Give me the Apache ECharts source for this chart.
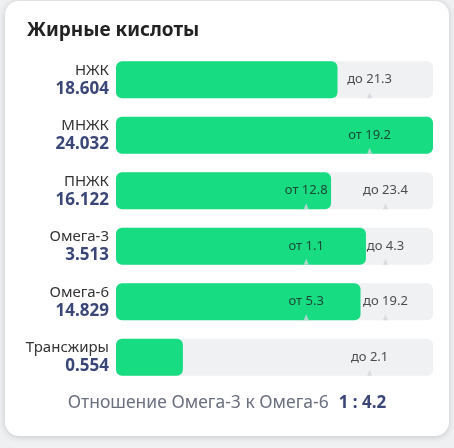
<!DOCTYPE html>
<html>
<head>
<meta charset="utf-8">
<script src="https://cdn.jsdelivr.net/npm/echarts@6/dist/echarts.min.js"></script>
<style>
  html, body { margin: 0; padding: 0; background: #eff0f2; }
  #chart { width: 454px; height: 448px; }
</style>
</head>
<body>
<div id="chart"></div>
<script>
// values
var categories = ['НЖК', 'МНЖК', 'ПНЖК', 'Омега-3', 'Омега-6', 'Трансжиры'];
var values = [18.604, 24.032, 16.122, 3.513, 14.829, 0.554];
var rangeFrom = [null, 19.2, 12.8, 1.1, 5.3, null];
var rangeTo = [21.3, null, 23.4, 4.3, 19.2, 2.1];
var ratioText = '1 : 4.2';

// scale of the track: lower bound at 60%, upper at 85%; a single bound sits at 80%
function toPct(v, i) {
    var lo = rangeFrom[i], hi = rangeTo[i], p;
    if (lo != null && hi != null) {
        p = 60 + (v - lo) / (hi - lo) * 25;
    } else {
        p = v / (lo != null ? lo : hi) * 80;
    }
    return Math.max(0, Math.min(100, p));
}

var barData = values.map(function (v, i) { return toPct(v, i); });

var marks = [];
for (var i = 0; i < categories.length; i++) {
    if (rangeFrom[i] != null) marks.push({ value: [toPct(rangeFrom[i], i), i], text: 'от ' + rangeFrom[i] });
    if (rangeTo[i] != null) marks.push({ value: [toPct(rangeTo[i], i), i], text: 'до ' + rangeTo[i] });
}

var font = '"Noto Sans", "Open Sans", sans-serif';
var chart = echarts.init(document.getElementById('chart'));

var option = {
    animation: false,
    backgroundColor: '#eff0f2',
    textStyle: { fontFamily: font },
    title: {
        text: 'Жирные кислоты',
        left: 22,
        top: 16,
        textStyle: { fontSize: 19, fontWeight: 'bold', color: '#222222', fontFamily: font }
    },
    graphic: [
        {
            type: 'rect',
            z: -10,
            silent: true,
            shape: { x: 5, y: 1, width: 444, height: 435, r: 14 },
            style: { fill: '#ffffff', shadowBlur: 6, shadowColor: 'rgba(0,0,0,0.18)', shadowOffsetY: 1 }
        },
        {
            type: 'text',
            left: 'center',
            top: 394,
            style: {
                text: '{a|Отношение Омега-3 к Омега-6}{s| }{b|' + ratioText + '}',
                rich: {
                    a: { fontSize: 17.5, fill: '#6b7080', fontFamily: font },
                    s: { fontSize: 17, width: 10 },
                    b: { fontSize: 17, fontWeight: 'bold', fill: '#3a4677', fontFamily: font }
                }
            }
        }
    ],
    grid: { left: 116, right: 21, top: 52, bottom: 63 },
    xAxis: { type: 'value', min: 0, max: 100, show: false },
    yAxis: {
        type: 'category',
        inverse: true,
        data: categories,
        axisLine: { show: false },
        axisTick: { show: false },
        axisLabel: {
            margin: 7,
            align: 'right',
            formatter: function (name, idx) {
                return '{n|' + name + '}\n{v|' + values[idx].toFixed(3) + '}';
            },
            rich: {
                n: { fontSize: 15, color: '#333333', lineHeight: 18, align: 'right', fontFamily: font },
                v: { fontSize: 17, fontWeight: 'bold', color: '#3a4677', lineHeight: 19, align: 'right', fontFamily: font }
            }
        }
    },
    series: [
        {
            type: 'bar',
            data: barData,
            barWidth: 37,
            showBackground: true,
            backgroundStyle: { color: '#f0f1f3', borderRadius: 6 },
            itemStyle: { color: '#18dc82', borderRadius: 6 },
            silent: true
        },
        {
            type: 'scatter',
            data: marks,
            symbol: 'triangle',
            symbolSize: [5, 6],
            symbolOffset: [0, 15.5],
            itemStyle: { color: '#d3d6db' },
            z: 5,
            silent: true,
            label: {
                show: true,
                position: 'inside',
                offset: [0, -15.5],
                formatter: function (p) { return p.data.text; },
                fontSize: 13,
                color: '#222222',
                fontFamily: font
            }
        }
    ]
};

chart.setOption(option);
</script>
</body>
</html>
